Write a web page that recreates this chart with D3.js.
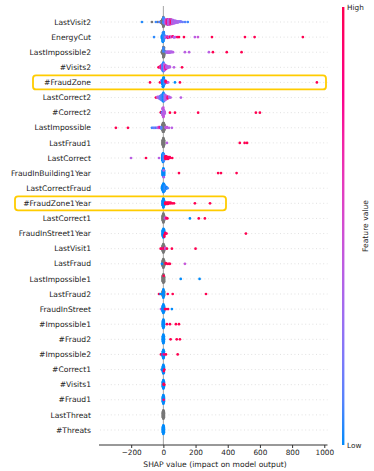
<!DOCTYPE html>
<html>
<head>
<meta charset="utf-8">
<script src="https://cdn.jsdelivr.net/npm/d3@7"></script>
<style>
  body { margin: 0; background: #fff; }
  text { font-family: "DejaVu Sans", sans-serif; fill: #222; }
</style>
</head>
<body>
<div class="chart"></div>
<script>
// feature names, top to bottom
var features = ["LastVisit2", "EnergyCut", "LastImpossible2", "#Visits2", "#FraudZone",
  "LastCorrect2", "#Correct2", "LastImpossible", "LastFraud1", "LastCorrect",
  "FraudInBuilding1Year", "LastCorrectFraud", "#FraudZone1Year", "LastCorrect1",
  "FraudInStreet1Year", "LastVisit1", "LastFraud", "LastImpossible1", "LastFraud2",
  "FraudInStreet", "#Impossible1", "#Fraud2", "#Impossible2", "#Correct1", "#Visits1",
  "#Fraud1", "LastThreat", "#Threats"];

// points per feature: [shap value, feature value 0..1 (null = missing), count]
var pLastVisit2 = [[-133, 0.02], [-71, null], [-46, 0.05], [-35, null], [-25, 0.1], [-15, null, 3], [-8, null, 6],
  [-4, null, 10], [0, null, 12], [4, null, 8], [0, 0.03, 5], [4, 0.08, 4], [8, 0.1, 5],
  [12, 0.25, 6], [16, 0.4, 7], [20, 0.7, 8], [24, 0.35, 9], [28, 0.9, 9], [32, 0.4, 9], [36, 0.3, 9],
  [40, 0.45, 9], [44, 0.85, 8], [48, 0.35, 8], [52, 0.95, 7], [56, 0.4, 7], [60, 0.3, 6], [65, 0.45, 5],
  [70, 0.35, 5], [76, 0.3, 4], [82, 0.4, 3], [90, 0.3, 3], [98, 0.35, 2], [108, 0.2, 2], [120, 0.15], [135, 0.1], [152, 0.05]];
var pEnergyCut = [[-58, 0.03], [-8, 0.0, 8], [-3, 0.0, 14], [2, 0.02, 14], [7, 0.05, 8],
  [15, 0.4, 3], [22, 0.35, 2], [28, 0.9, 3], [35, 0.4, 3], [42, 0.95, 2], [50, 0.4, 2], [58, 0.9, 2], [66, 0.35, 2],
  [75, 0.4], [86, 0.9], [97, 1], [128, 1], [196, 0.4], [215, 0.45], [302, 1], [507, 1], [567, 1], [867, 1]];
var pLastImpossible2 = [[-8, null, 5], [-4, null, 10], [0, null, 14], [4, null, 10], [8, null, 4], [0, 0.05, 3],
  [16, 0.1, 2], [22, 0.4, 3], [28, 0.3, 3], [34, 0.45, 3], [40, 0.35, 3], [46, 0.4, 2], [52, 0.35, 2], [60, 0.4],
  [134, 0.4], [160, 0.4], [283, 0.4], [308, 1], [394, 1], [486, 1]];
var pVisits2 = [[-30, 0.95], [-22, 1, 2], [-15, 0.4, 4], [-10, 0.8, 6], [-5, 0.1, 9], [0, 0.03, 12], [5, 0.35, 9],
  [10, 0.4, 7], [15, 0.8, 5], [20, 0.35, 4], [26, 0.4, 3], [33, 0.35, 2], [40, 0.4, 2], [66, 0.4], [116, 1]];
var pFraudZone = [[-83, 1], [-21, 1], [-12, 0.4, 2], [-6, 0.0, 8], [-2, 0.0, 12], [2, 0.0, 12], [6, 0.05, 8],
  [14, 1, 2], [22, 0.9, 2], [30, 0.4], [72, 0.0], [103, 1], [954, 1]];
var pLastCorrect2 = [[-46, 1], [-36, 0.4, 2], [-28, 0.35, 3], [-20, 0.15, 5], [-12, 0.1, 7], [-5, 0.05, 9], [0, 0.0, 12],
  [5, 0.1, 9], [12, 0.35, 7], [20, 0.45, 5], [28, 0.9, 3], [36, 0.4, 2], [45, 0.4], [109, 0.4]];
var pCorrect2 = [[-15, 1, 2], [-8, 0.0, 3], [-4, 0.4, 8], [0, 0.45, 12], [4, 0.35, 8], [8, 0.4, 3],
  [41, 1], [72, 1], [216, 1], [575, 1], [600, 1]];
var pLastImpossible = [[-295, 1], [-220, 1], [-71, 0.05], [-62, 0.1], [-54, 0.2], [-46, 0.05], [-38, 0.3],
  [-30, 0.4, 2], [-22, 0.8, 2], [-14, 0.1, 3], [-6, null, 8], [-2, null, 12], [2, null, 12], [6, null, 8],
  [14, 0.4, 2], [22, 0.45, 2], [35, 0.4], [53, 0.4]];
var pLastFraud1 = [[-4, null, 8], [0, null, 14], [4, null, 8], [22, 0.4], [475, 1], [505, 1], [520, 1]];
var pLastCorrect = [[-201, 0.4], [-108, 1], [-27, 0.4], [-6, 0.0, 8], [-2, 0.0, 12], [2, 0.05, 10], [6, 0.1, 6],
  [12, 1, 4], [18, 1, 4], [24, 0.95, 3], [30, 1, 3], [40, 0.95, 2], [55, 1]];
var pFraudInBuilding1Year = [[-4, 0.0, 8], [0, 0.0, 12], [4, 0.0, 8], [2, 0.4, 2], [97, 1], [340, 1], [358, 1], [455, 1]];
var pLastCorrectFraud = [[-8, 0.0, 4], [-4, 0.0, 8], [0, 0.0, 12], [4, 0.0, 10], [8, 0.02, 7], [14, 0.05, 4], [20, 0.0, 2], [26, 0.05]];
var pFraudZone1Year = [[-4, 0.0, 8], [0, 0.0, 14], [4, 0.0, 8], [12, 1, 3], [20, 1, 3], [28, 1, 3], [36, 1, 2],
  [45, 1, 2], [55, 1], [66, 1], [196, 1], [290, 1]];
var pLastCorrect1 = [[-4, null, 8], [0, null, 14], [4, null, 8], [10, 0.4, 2], [18, 0.8, 2], [25, 1], [165, 0.0], [220, 1], [258, 1]];
var pFraudInStreet1Year = [[-4, 0.0, 8], [0, 0.0, 12], [4, 0.0, 8], [6, 1, 2], [12, 1, 2], [20, 0.9], [513, 1]];
var pLastVisit1 = [[-17, 1], [-10, 0.9], [-4, null, 8], [0, null, 12], [4, null, 8], [6, 1, 2], [12, 0.4, 2],
  [22, 1], [53, 1], [200, 1]];
var pLastFraud = [[-9, 0.0], [-4, null, 8], [0, null, 12], [4, null, 8], [15, 1, 2], [27, 1], [35, 1], [41, 1], [134, 0.45]];
var pLastImpossible1 = [[-4, null, 8], [0, null, 12], [4, null, 8], [2, 1], [108, 0.0], [225, 0.0]];
var pLastFraud2 = [[-27, 1], [-18, 0.0], [-10, 0.0], [-4, null, 6], [0, 0.0, 10], [4, null, 6], [27, 1], [58, 1], [265, 1]];
var pFraudInStreet = [[-15, 0.4], [-10, 0.45], [-4, 0.0, 8], [0, 0.0, 12], [4, 0.0, 8], [10, 1], [16, 1], [29, 1], [53, 0.0]];
var pImpossible1 = [[-3, 0.0, 8], [0, 0.0, 12], [3, 0.0, 8], [22, 1], [41, 1], [78, 1], [97, 1]];
var pFraud2 = [[-3, 0.0, 8], [0, 0.0, 12], [3, 0.0, 8], [45, 1], [83, 1], [103, 1]];
var pImpossible2 = [[-15, 1], [-8, 1], [-3, 0.0, 8], [0, 0.0, 12], [3, 0.0, 8], [2, 0.8], [16, 1], [89, 1]];
var pCorrect1 = [[-10, 0.0], [-3, 0.0, 8], [0, 0.0, 12], [3, 0.0, 8], [3, 1], [6, 1]];
var pVisits1 = [[-3, 0.0, 8], [0, 0.0, 12], [3, 0.0, 8], [2, 1, 2], [6, 1]];
var pFraud1 = [[-3, 0.0, 8], [0, 0.0, 12], [3, 0.0, 8], [2, 0.9]];
var pLastThreat = [[-3, null, 8], [0, null, 12], [3, null, 8]];
var pThreats = [[-3, 0.0, 8], [0, 0.0, 12], [3, 0.0, 8]];

var xTicks = [-200, 0, 200, 400, 600, 800, 1000];
var highlighted = ["#FraudZone", "#FraudZone1Year"];

var rowPoints = [pLastVisit2, pEnergyCut, pLastImpossible2, pVisits2, pFraudZone, pLastCorrect2, pCorrect2,
  pLastImpossible, pLastFraud1, pLastCorrect, pFraudInBuilding1Year, pLastCorrectFraud, pFraudZone1Year,
  pLastCorrect1, pFraudInStreet1Year, pLastVisit1, pLastFraud, pLastImpossible1, pLastFraud2, pFraudInStreet,
  pImpossible1, pFraud2, pImpossible2, pCorrect1, pVisits1, pFraud1, pLastThreat, pThreats];

var svgWidth = 374, svgHeight = 471;
var axisY = 445;

var svg = d3.select(".chart").append("svg")
  .attr("width", svgWidth)
  .attr("height", svgHeight);

var x = d3.scaleLinear().domain([-400, 1020]).range([99, 327.5]);
var y = d3.scalePoint().domain(features).range([22, 430]);
var step = y.step();

var color = d3.scaleLinear().domain([0, 1])
  .range(["#008bfb", "#ff0051"])
  .interpolate(d3.interpolateHcl);

// dotted row lines and zero line
svg.append("g").selectAll("line")
  .data(features)
  .enter().append("line")
  .attr("x1", 100).attr("x2", 327.5)
  .attr("y1", d => y(d)).attr("y2", d => y(d))
  .attr("stroke", "#cccccc")
  .attr("stroke-width", 0.6)
  .attr("stroke-dasharray", "1,2.6");

svg.append("line")
  .attr("x1", x(0)).attr("x2", x(0))
  .attr("y1", 6).attr("y2", axisY)
  .attr("stroke", "#999")
  .attr("stroke-width", 0.9);

// beeswarm layout like shap: bin, then stack alternately up/down
function swarm(points, rowY) {
  var pts = [];
  points.forEach(function (p) {
    var n = p[2] || 1;
    for (var i = 0; i < n; i++) pts.push({ v: p[0], f: p[1] });
  });
  var lo = d3.min(pts, d => d.v), hi = d3.max(pts, d => d.v);
  var nbins = 100;
  pts.forEach(function (p, i) {
    p.q = Math.round(nbins * (p.v - lo) / (hi - lo + 1e-8));
    p.k = (i * 7919) % 97;
  });
  var order = d3.range(pts.length).sort((a, b) => pts[a].q - pts[b].q || pts[a].k - pts[b].k);
  var layer = 0, lastBin = -1;
  order.forEach(function (i) {
    if (pts[i].q !== lastBin) layer = 0;
    pts[i].ys = Math.ceil(layer / 2) * ((layer % 2) * 2 - 1);
    layer += 1;
    lastBin = pts[i].q;
  });
  var maxYs = d3.max(pts, d => d.ys);
  var s = 0.9 * 0.4 * step / (maxYs + 1);
  pts.forEach(function (p) { p.py = rowY - p.ys * s; });
  return pts;
}

var allPts = [];
features.forEach(function (f, i) {
  allPts = allPts.concat(swarm(rowPoints[i], y(f)));
});
var missing = allPts.filter(d => d.f === null);
var valued = allPts.filter(d => d.f !== null);

svg.append("g").selectAll("circle")
  .data(missing)
  .enter().append("circle")
  .attr("cx", d => x(d.v))
  .attr("cy", d => d.py)
  .attr("r", 1.35)
  .attr("fill", "#777777");

svg.append("g").selectAll("circle")
  .data(valued)
  .enter().append("circle")
  .attr("cx", d => x(d.v))
  .attr("cy", d => d.py)
  .attr("r", 1.35)
  .attr("fill", d => color(d.f));

// feature labels
svg.append("g").selectAll("text")
  .data(features)
  .enter().append("text")
  .attr("x", 91)
  .attr("y", d => y(d))
  .attr("dy", "0.35em")
  .attr("text-anchor", "end")
  .style("font-size", "7.6px")
  .text(d => d);

// highlight boxes
var boxX = { "#FraudZone": [33, 326], "#FraudZone1Year": [15, 226] };
svg.append("g").selectAll("rect")
  .data(highlighted)
  .enter().append("rect")
  .attr("x", d => boxX[d][0])
  .attr("y", d => y(d) - 7)
  .attr("width", d => boxX[d][1] - boxX[d][0])
  .attr("height", 14)
  .attr("rx", 3)
  .attr("fill", "none")
  .attr("stroke", "#ffcc00")
  .attr("stroke-width", 1.8);

// x axis
var bottomAxis = d3.axisBottom(x)
  .tickValues(xTicks)
  .tickSize(3)
  .tickFormat(d => d < 0 ? "\u2212" + Math.abs(d) : d);

var axisG = svg.append("g")
  .attr("transform", `translate(0, ${axisY})`)
  .call(bottomAxis);
axisG.select(".domain").attr("stroke", "#333").attr("d", "M99,0H327.5");
axisG.selectAll(".tick line").attr("stroke", "#333");
axisG.selectAll(".tick text")
  .style("font-family", "DejaVu Sans")
  .style("font-size", "7.3px")
  .attr("fill", "#333")
  .attr("y", 5);

svg.append("text")
  .attr("x", 215)
  .attr("y", 467)
  .attr("text-anchor", "middle")
  .style("font-size", "7.6px")
  .text("SHAP value (impact on model output)");

// colour bar
var grad = svg.append("defs").append("linearGradient")
  .attr("id", "cbar")
  .attr("x1", 0).attr("y1", 1).attr("x2", 0).attr("y2", 0);
d3.range(0, 1.01, 0.1).forEach(function (t) {
  grad.append("stop").attr("offset", t).attr("stop-color", color(t));
});
svg.append("rect")
  .attr("x", 342).attr("y", 7)
  .attr("width", 2.4).attr("height", axisY - 7)
  .attr("fill", "url(#cbar)");

svg.append("text").attr("x", 347).attr("y", 9.5)
  .style("font-size", "7.3px").text("High");
svg.append("text").attr("x", 347).attr("y", 448)
  .style("font-size", "7.3px").text("Low");
svg.append("text")
  .attr("transform", "translate(368, 226) rotate(-90)")
  .attr("text-anchor", "middle")
  .style("font-size", "7.6px")
  .text("Feature value");
</script>
</body>
</html>
